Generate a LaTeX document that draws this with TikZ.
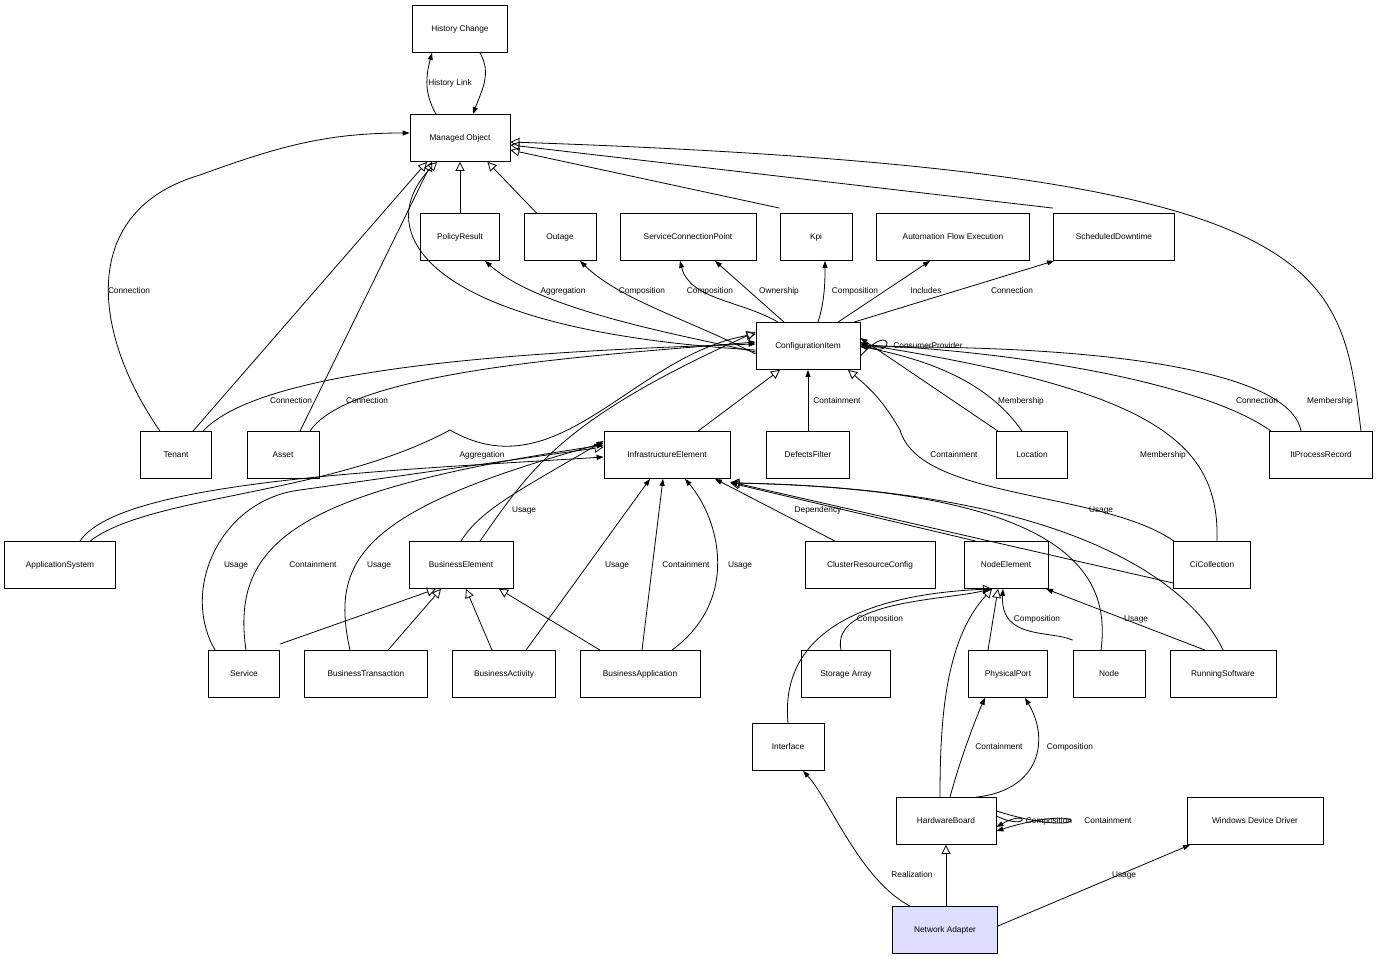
\documentclass[tikz,border=0pt]{standalone}
\usepackage{fontspec}
\setmainfont{Liberation Sans}
\usetikzlibrary{arrows.meta}
\begin{document}
\begin{tikzpicture}[x=1pt,y=-1pt,
 box/.style={draw,line width=0.8pt,minimum height=47pt,inner sep=0pt,font=\fontsize{8.3}{10}\selectfont},
 lbl/.style={font=\fontsize{8.3}{10}\selectfont,inner sep=1pt},
 inh/.style={draw,line width=0.8pt,-{Triangle[open,width=9pt,length=9pt]}},
 asc/.style={draw,line width=0.8pt,-{Triangle[width=5pt,length=7pt]}}]
\useasboundingbox (0,0) rectangle (1379,961);
\node[box,minimum width=95pt] (hc) at (460,29) {History Change};
\node[box,minimum width=100pt] (mo) at (460,138) {Managed Object};
\node[box,minimum width=79pt] (pr) at (460,237) {PolicyResult};
\node[box,minimum width=72pt] (ou) at (560,237) {Outage};
\node[box,minimum width=136pt] (scp) at (688,237) {ServiceConnectionPoint};
\node[box,minimum width=72pt] (kpi) at (816,237) {Kpi};
\node[box,minimum width=153pt] (afe) at (953,237) {Automation Flow Execution};
\node[box,minimum width=121pt] (sd) at (1114,237) {ScheduledDowntime};
\node[box,minimum width=104pt] (ci) at (808,346) {ConfigurationItem};
\node[box,minimum width=71pt] (te) at (176,455) {Tenant};
\node[box,minimum width=72pt] (as) at (283,455) {Asset};
\node[box,minimum width=126pt] (ie) at (667,455) {InfrastructureElement};
\node[box,minimum width=83pt] (df) at (808,455) {DefectsFilter};
\node[box,minimum width=71pt] (lo) at (1032,455) {Location};
\node[box,minimum width=103pt] (ipr) at (1321,455) {ItProcessRecord};
\node[box,minimum width=111pt] (aps) at (60,565) {ApplicationSystem};
\node[box,minimum width=104pt] (be) at (461,565) {BusinessElement};
\node[box,minimum width=130pt] (crc) at (870,565) {ClusterResourceConfig};
\node[box,minimum width=84pt] (ne) at (1006,565) {NodeElement};
\node[box,minimum width=77pt] (cc) at (1212,565) {CiCollection};
\node[box,minimum width=71pt] (sv) at (244,674) {Service};
\node[box,minimum width=123pt] (bt) at (366,674) {BusinessTransaction};
\node[box,minimum width=103pt] (ba) at (504,674) {BusinessActivity};
\node[box,minimum width=120pt] (bap) at (640,674) {BusinessApplication};
\node[box,minimum width=89pt] (sa) at (846,674) {Storage Array};
\node[box,minimum width=79pt] (pp) at (1008,674) {PhysicalPort};
\node[box,minimum width=72pt] (nd) at (1109,674) {Node};
\node[box,minimum width=106pt] (rs) at (1223,674) {RunningSoftware};
\node[box,minimum width=72pt] (if) at (788,747) {Interface};
\node[box,minimum width=100pt] (hb) at (946,821) {HardwareBoard};
\node[box,minimum width=136pt] (wdd) at (1255,821) {Windows Device Driver};
\node[box,minimum width=105pt,fill={rgb,255:red,221;green,221;blue,255}] (na) at (945,930) {Network Adapter};
% History
\draw[asc] ([xshift=-24]mo.north) to[out=120,in=-105] ([xshift=-28]hc.south) node[lbl] at (450,83) {History Link};
\draw[asc] ([xshift=20]hc.south) to[out=-60,in=70] ([xshift=13]mo.north);
% inheritance to MO
\draw[inh] (pr) -- (mo);
\draw[inh] ([xshift=13]ou.north west) -- ([xshift=-23]mo.south east);
\draw[inh] ([yshift=5]kpi.north west) -- ([yshift=-12]mo.east);
\draw[inh] ([yshift=5]sd.north west) -- ([yshift=-7]mo.east);
\draw[inh] ([xshift=40]ipr.north) .. controls (1340,260) and (1330,170) .. ([yshift=-4]mo.east);
\draw[inh] ([yshift=-4]ci.west) .. controls (420,330) and (370,230) .. ([xshift=-23]mo.south);
\draw[inh] ([xshift=17]te.north) -- ([xshift=-33]mo.south);
\draw[inh] ([xshift=17]as.north) -- ([xshift=-28]mo.south);
\draw[asc] ([xshift=-16]te.north) .. controls (90,330) and (80,210) .. (200,175) to[out=20,in=180] ([yshift=5]mo.west) node[lbl] at (129,291) {Connection};
% CI associations
\draw[asc] ([yshift=-6]ci.west) .. controls (680,335) and (540,310) .. ([xshift=25]pr.south) node[lbl] at (563,291) {Aggregation};
\draw[asc] ([yshift=-8]ci.west) .. controls (690,320) and (620,300) .. ([xshift=20]ou.south) node[lbl] at (642,291) {Composition};
\draw[asc] ([xshift=-30]ci.north) .. controls (740,300) and (690,300) .. ([xshift=-8]scp.south) node[lbl] at (710,291) {Composition};
\draw[asc] ([xshift=-24]ci.north) -- ([xshift=27]scp.south) node[lbl] at (779,291) {Ownership};
\draw[asc] ([xshift=10]ci.north) .. controls (825,300) and (825,280) .. ([xshift=9]kpi.south) node[lbl] at (855,291) {Composition};
\draw[asc] ([xshift=30]ci.north) -- ([xshift=-23]afe.south) node[lbl] at (926,291) {Includes};
\draw[asc] ([xshift=46]ci.north) -- ([xshift=-60]sd.south) node[lbl] at (1012,291) {Connection};
\draw[asc] ([yshift=-10]ci.east) .. controls (895,318) and (895,362) .. ([yshift=4]ci.east) node[lbl] at (928,346) {ConsumerProvider};
\draw[asc] (df) -- (ci) node[lbl] at (837,401) {Containment};
\draw[inh] ([xshift=31]ie.north) -- ([xshift=-28]ci.south);
\draw[inh] ([xshift=19]be.north) .. controls (530,470) and (560,420) .. ([yshift=14]ci.west);
\draw[inh] ([xshift=30]aps.north) .. controls (150,495) and (330,495) .. (450,430) to[out=-30,in=190] ([yshift=12]ci.west);
\draw[asc] ([xshift=27]te.north) .. controls (260,370) and (500,352) .. ([yshift=2]ci.west) node[lbl] at (291,401) {Connection};
\draw[asc] ([xshift=27]as.north) .. controls (350,370) and (600,355) .. ([yshift=4]ci.west) node[lbl] at (367,401) {Connection};
\draw[asc] ([xshift=-34]lo.north) -- ([yshift=8]ci.east);
\draw[asc] ([xshift=-10]lo.north) .. controls (980,370) and (900,355) .. ([yshift=0]ci.east) node[lbl] at (1021,401) {Membership};
\draw[inh] ([xshift=-38]cc.north) .. controls (1100,490) and (920,500) .. (900,430) to[out=120,in=-40] ([xshift=40]ci.south) node[lbl] at (954,455) {Containment};
\draw[asc] ([xshift=5]cc.north) .. controls (1220,440) and (1150,390) .. ([yshift=2]ci.east) node[lbl] at (1163,455) {Membership};
\draw[asc] ([xshift=-50]ipr.north) .. controls (1200,380) and (1000,350) .. ([yshift=1]ci.east) node[lbl] at (1257,401) {Connection};
\draw[asc] ([xshift=-20]ipr.north) .. controls (1290,370) and (1100,345) .. ([yshift=-1]ci.east) node[lbl] at (1330,401) {Membership};
% IE incoming
\draw[asc] ([xshift=20]aps.north) .. controls (120,480) and (400,470) .. ([yshift=-2]ie.west) node[lbl] at (482,455) {Aggregation};
\draw[inh] ([xshift=7]sv.north west) .. controls (180,590) and (220,500) .. (300,490) -- ([yshift=8]ie.west) node[lbl] at (236,565) {Usage};
\draw[asc] ([xshift=2]sv.north) .. controls (230,540) and (300,490) .. ([yshift=10]ie.west) node[lbl] at (313,565) {Containment};
\draw[asc] ([xshift=-16]bt.north) .. controls (330,560) and (360,510) .. ([yshift=12]ie.west) node[lbl] at (379,565) {Usage};
\draw[inh] ([yshift=6]sv.north east) -- ([xshift=-25]be.south);
\draw[inh] ([xshift=22]bt.north) -- ([xshift=-20]be.south);
\draw[inh] ([xshift=-12]ba.north) -- ([xshift=5]be.south);
\draw[inh] ([xshift=-40]bap.north) -- ([xshift=38]be.south);
\draw[asc] ([xshift=0]be.north) .. controls (480,510) and (520,490) .. ([yshift=14]ie.west) node[lbl] at (524,510) {Usage};
\draw[asc] ([xshift=22]ba.north) -- ([xshift=-17]ie.south) node[lbl] at (617,565) {Usage};
\draw[asc] ([xshift=2]bap.north) -- ([xshift=-4]ie.south) node[lbl] at (686,565) {Containment};
\draw[asc] ([xshift=32]bap.north) .. controls (740,600) and (720,520) .. ([xshift=18]ie.south) node[lbl] at (740,565) {Usage};
\draw[asc] ([xshift=-35]crc.north) -- ([xshift=48]ie.south) node[lbl] at (818,510) {Dependency};
\draw[inh] ([xshift=-30]ne.north) -- ([yshift=-4]ie.south east);
\draw[inh] ([xshift=-8]nd.north) .. controls (1110,580) and (1080,490) .. ([yshift=-4]ie.south east);
\draw[asc] ([yshift=-18]cc.west) -- ([yshift=-3]ie.south east) node[lbl] at (1101,510) {Usage};
\draw[inh] (rs.north) .. controls (1200,600) and (1100,490) .. ([yshift=-4]ie.south east);
% NodeElement
\draw[asc] ([xshift=-5]sa.north) .. controls (830,600) and (950,600) .. ([xshift=-16]ne.south) node[lbl] at (880,619) {Composition};
\draw[inh] (if.north) .. controls (780,640) and (850,595) .. ([xshift=-14]ne.south);
\draw[inh] ([xshift=-20]pp.north) -- ([xshift=-8]ne.south);
\draw[inh] ([xshift=-6]hb.north) .. controls (940,720) and (945,640) .. ([xshift=-14]ne.south);
\draw[asc] ([yshift=10]nd.north west) .. controls (1050,630) and (1000,640) .. ([xshift=-3]ne.south) node[lbl] at (1037,619) {Composition};
\draw[asc] ([xshift=-18]rs.north) -- ([xshift=40]ne.south) node[lbl] at (1136,619) {Usage};
% HardwareBoard
\draw[asc] ([xshift=4]hb.north) .. controls (960,760) and (975,720) .. ([xshift=-23]pp.south) node[lbl] at (999,747) {Containment};
\draw[asc] ([xshift=-20]hb.north east) .. controls (1040,790) and (1050,740) .. ([xshift=17]pp.south) node[lbl] at (1070,747) {Composition};
\draw[asc] ([yshift=5]hb.east) .. controls (1030,832) and (1030,808) .. ([yshift=-6]hb.east) node[lbl] at (1049,821) {Composition};
\draw[asc] ([yshift=10]hb.east) .. controls (1095,842) and (1095,800) .. ([yshift=-10]hb.east) node[lbl] at (1108,821) {Containment};
% Network Adapter
\draw[inh] ([xshift=1]na.north) -- (hb);
\draw[asc] ([xshift=-35]na.north) .. controls (860,880) and (830,800) .. ([xshift=15]if.south) node[lbl] at (912,875) {Realization};
\draw[asc] ([yshift=4]na.east) -- ([xshift=-65]wdd.south) node[lbl] at (1124,875) {Usage};
\end{tikzpicture}
\end{document}
